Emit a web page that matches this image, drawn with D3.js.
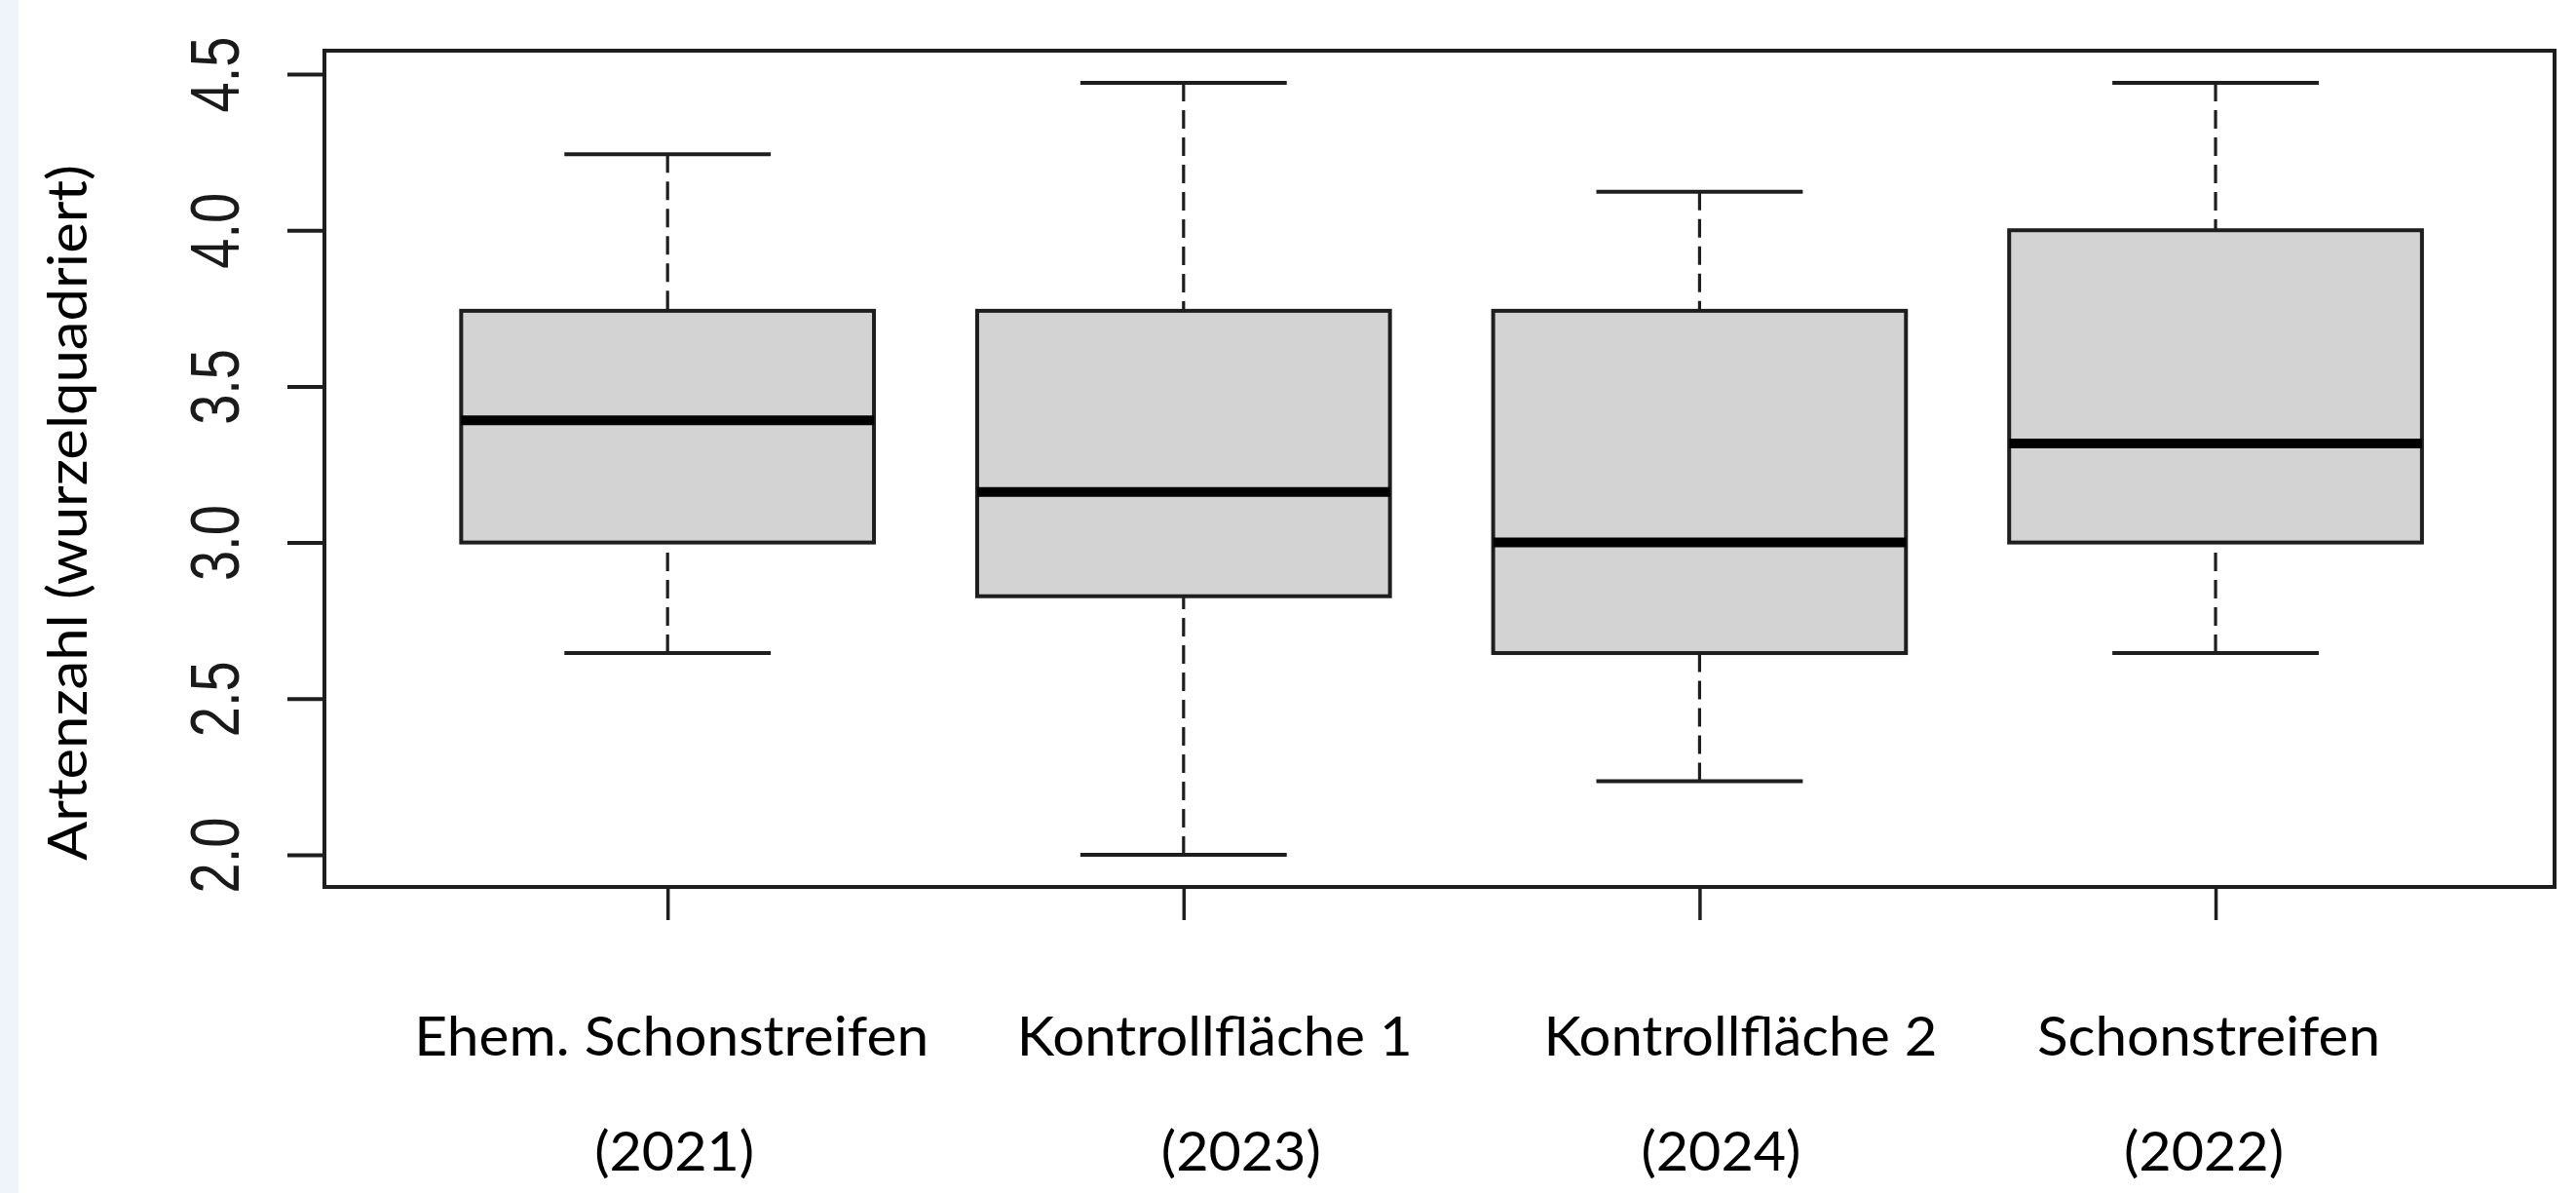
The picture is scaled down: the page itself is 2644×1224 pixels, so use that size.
<!DOCTYPE html>
<html>
<head>
<meta charset="utf-8">
<script src="https://cdn.jsdelivr.net/npm/d3@7"></script>
<style>
  html, body { margin: 0; padding: 0; background: #ffffff; }
  svg { display: block; }
</style>
</head>
<body>
<svg id="chart" width="2644" height="1224"></svg>
<script>
// Species richness per plot type (square-root transformed)
const categories  = ["Ehem. Schonstreifen", "Kontrollfläche 1", "Kontrollfläche 2", "Schonstreifen"];
const years       = ["(2021)", "(2023)", "(2024)", "(2022)"];
const whiskerLow  = [2.646, 2.000, 2.236, 2.646];
const lowerQuart  = [3.000, 2.828, 2.646, 3.000];
const medians     = [3.391, 3.162, 3.000, 3.317];
const upperQuart  = [3.742, 3.742, 3.742, 4.000];
const whiskerHigh = [4.243, 4.472, 4.123, 4.472];
const yTicks      = [2.0, 2.5, 3.0, 3.5, 4.0, 4.5];
const yTickLabels = ["2.0", "2.5", "3.0", "3.5", "4.0", "4.5"];
const yTitle      = "Artenzahl (wurzelquadriert)";

const boxes = categories.map((c, i) => ({
  pos: i + 1,
  name: c,
  year: years[i],
  lo: whiskerLow[i], q1: lowerQuart[i], med: medians[i], q3: upperQuart[i], hi: whiskerHigh[i]
}));

// ---- layout ----
const W = 2644, H = 1224;
const plot = { left: 333, right: 2622, top: 52, bottom: 910 };
const boxWidth = 0.8, capWidth = 0.4;
const lineCol = "#1e1e1e";
const labelFont = "Lato, 'Open Sans', 'Noto Sans', sans-serif";
// horizontal nudges of the category captions relative to their ticks
const nameShift = [4, 32, 42, -7];
const yearShift = [7, 59, 22, -12];
const nameWidth = [528, 406, 404, 352];

const svg = d3.select("#chart");
svg.append("rect").attr("width", W).attr("height", H).attr("fill", "#ffffff");
svg.append("rect").attr("x", 0).attr("y", 0).attr("width", 19).attr("height", H).attr("fill", "#eff3fa");

const x = d3.scaleLinear().domain([0.335, 4.657]).range([plot.left, plot.right]);
const y = d3.scaleLinear().domain([1.897, 4.575]).range([plot.bottom, plot.top]);

// ---- boxes ----
const g = svg.append("g");
const bw = x(1 + boxWidth / 2) - x(1);
const cw = x(1 + capWidth / 2) - x(1);

const bx = g.selectAll("g.box").data(boxes).join("g").attr("class", "box");

// whiskers (dashed), drawn from the cap towards the box
bx.append("line")
  .attr("x1", d => x(d.pos)).attr("x2", d => x(d.pos))
  .attr("y1", d => y(d.hi)).attr("y2", d => y(d.q3))
  .attr("stroke", lineCol).attr("stroke-width", 3.2).attr("stroke-dasharray", "19,9");
bx.append("line")
  .attr("x1", d => x(d.pos)).attr("x2", d => x(d.pos))
  .attr("y1", d => y(d.lo)).attr("y2", d => y(d.q1))
  .attr("stroke", lineCol).attr("stroke-width", 3.2).attr("stroke-dasharray", "19,9");

// caps
bx.append("line")
  .attr("x1", d => x(d.pos) - cw).attr("x2", d => x(d.pos) + cw)
  .attr("y1", d => y(d.hi)).attr("y2", d => y(d.hi))
  .attr("stroke", lineCol).attr("stroke-width", 4);
bx.append("line")
  .attr("x1", d => x(d.pos) - cw).attr("x2", d => x(d.pos) + cw)
  .attr("y1", d => y(d.lo)).attr("y2", d => y(d.lo))
  .attr("stroke", lineCol).attr("stroke-width", 4);

// interquartile box
bx.append("rect")
  .attr("x", d => x(d.pos) - bw).attr("width", 2 * bw)
  .attr("y", d => y(d.q3)).attr("height", d => y(d.q1) - y(d.q3))
  .attr("fill", "#d3d3d3").attr("stroke", lineCol).attr("stroke-width", 4);

// median
bx.append("line")
  .attr("x1", d => x(d.pos) - bw).attr("x2", d => x(d.pos) + bw)
  .attr("y1", d => y(d.med)).attr("y2", d => y(d.med))
  .attr("stroke", "#000000").attr("stroke-width", 10);

// ---- frame ----
svg.append("rect")
  .attr("x", plot.left).attr("y", plot.top)
  .attr("width", plot.right - plot.left).attr("height", plot.bottom - plot.top)
  .attr("fill", "none").attr("stroke", lineCol).attr("stroke-width", 4);

// ---- y axis ----
const yAxis = svg.append("g")
  .attr("transform", `translate(${plot.left},0)`)
  .call(d3.axisLeft(y).tickValues(yTicks).tickSize(38)
        .tickFormat((d, i) => yTickLabels[i]));
yAxis.select(".domain").remove();
yAxis.selectAll(".tick line").attr("stroke", lineCol).attr("stroke-width", 4);
yAxis.selectAll(".tick text")
  .attr("x", null).attr("dy", null)
  .attr("text-anchor", "middle")
  .attr("transform", "translate(-88,0) scale(1.25,1) rotate(-90)")
  .attr("font-family", "'Liberation Sans', Arial, sans-serif")
  .attr("font-size", 56)
  .attr("fill", "#1a1a1a");

// ---- x axis ----
const xAxis = svg.append("g")
  .attr("transform", `translate(0,${plot.bottom})`)
  .call(d3.axisBottom(x).tickValues(boxes.map(d => d.pos)).tickSize(34).tickFormat(""));
xAxis.select(".domain").remove();
xAxis.selectAll(".tick line").attr("stroke", lineCol).attr("stroke-width", 3.5);

// category captions (two lines)
svg.append("g").selectAll("text.name").data(boxes).join("text")
  .attr("class", "name")
  .attr("x", (d, i) => x(d.pos) + nameShift[i])
  .attr("y", 1083)
  .attr("text-anchor", "middle")
  .attr("font-family", labelFont)
  .attr("font-size", 56)
  .attr("fill", "#000")
  .attr("textLength", (d, i) => nameWidth[i])
  .attr("lengthAdjust", "spacingAndGlyphs")
  .text(d => d.name);

svg.append("g").selectAll("text.year").data(boxes).join("text")
  .attr("class", "year")
  .attr("x", (d, i) => x(d.pos) + yearShift[i])
  .attr("y", 1201)
  .attr("text-anchor", "middle")
  .attr("font-family", labelFont)
  .attr("font-size", 56)
  .attr("fill", "#000")
  .attr("textLength", 164)
  .attr("lengthAdjust", "spacingAndGlyphs")
  .text(d => d.year);

// y-axis title
svg.append("text")
  .attr("transform", `translate(89,${(y(4.575) + y(1.897)) / 2 + 45}) rotate(-90)`)
  .attr("text-anchor", "middle")
  .attr("font-family", labelFont)
  .attr("font-size", 57)
  .attr("fill", "#000")
  .attr("textLength", 714)
  .attr("lengthAdjust", "spacingAndGlyphs")
  .text(yTitle);
</script>
</body>
</html>
